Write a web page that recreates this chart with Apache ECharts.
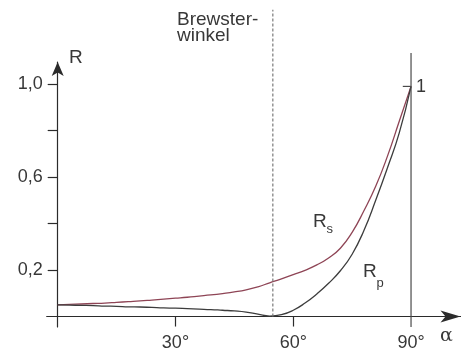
<!DOCTYPE html>
<html>
<head>
<meta charset="utf-8">
<script src="https://cdn.jsdelivr.net/npm/echarts@6/dist/echarts.min.js"></script>
<style>
  html, body { margin: 0; padding: 0; background: #fff; }
  #chart { width: 461px; height: 353px; }
</style>
</head>
<body>
<div id="chart"></div>
<script>
var angles = [0, 3, 6, 9, 12, 15, 18, 21, 24, 27, 30, 33, 36, 39, 42, 45, 48, 51, 54, 57, 60, 63, 66, 69, 72, 75, 78, 81, 84, 87, 90];
var rsValue = [0.050, 0.052, 0.054, 0.056, 0.058, 0.061, 0.064, 0.067, 0.071, 0.075, 0.079, 0.083, 0.088, 0.093, 0.099, 0.106,
               0.115, 0.128, 0.145, 0.162, 0.180, 0.199, 0.222, 0.252, 0.294, 0.362, 0.455, 0.56, 0.69, 0.84, 0.99];
var rpValue = [0.050, 0.049, 0.048, 0.047, 0.045, 0.044, 0.042, 0.041, 0.039, 0.037, 0.036, 0.034, 0.032, 0.030, 0.027, 0.024,
               0.019, 0.010, 0.002, 0.008, 0.027, 0.058, 0.097, 0.143, 0.197, 0.268, 0.370, 0.50, 0.64, 0.79, 0.99];

var xTickLabels = [30, 60, 90];
var xTicks = [30, 60];
var yTickLabels = [0.2, 0.6, 1.0];
var yTicks = [0.2, 0.4, 0.6, 0.8, 1.0];

var brewsterAngle = 54.8;
var brewsterLine = [[brewsterAngle, 0], [brewsterAngle, 1.32]];
var rightLine = [[90, -0.045], [90, 1.134]];
var oneTick = [[87.9, 0.99], [90, 0.99]];

function pairs(xs, ys) {
  var out = [];
  for (var i = 0; i < xs.length; i++) out.push([xs[i], ys[i]]);
  return out;
}

var txt = '#383838';
var axisCol = '#2b2b2b';
var fam = '"Liberation Sans", Arial, sans-serif';

var chart = echarts.init(document.getElementById('chart'));  // echarts定义
var option = {
  animation: false,
  backgroundColor: '#fff',
  grid: { left: 46.7, right: 0.5, top: 62, bottom: 26, containLabel: false, outerBoundsMode: 'none' },
  xAxis: {
    type: 'value',
    min: -2.8,
    max: 102.6,
    splitLine: { show: false },
    axisLine: {
      onZero: true,
      lineStyle: { color: axisCol, width: 1.2 },
      symbol: ['none', 'arrow'],
      symbolSize: [9, 20]
    },
    axisTick: { customValues: xTicks, length: 10, lineStyle: { color: axisCol, width: 1.2 } },
    axisLabel: {
      customValues: xTickLabels,
      margin: 7,
      fontSize: 18,
      fontFamily: fam,
      color: txt,
      formatter: function (v) { return v + '°'; }
    }
  },
  yAxis: {
    type: 'value',
    min: -0.045,
    max: 1.095,
    splitLine: { show: false },
    axisLine: {
      onZero: true,
      lineStyle: { color: axisCol, width: 1.2 },
      symbol: ['none', 'arrow'],
      symbolSize: [9, 14]
    },
    axisTick: { customValues: yTicks, length: 10, lineStyle: { color: axisCol, width: 1.2 } },
    axisLabel: {
      customValues: yTickLabels,
      margin: 4,
      fontSize: 18,
      fontFamily: fam,
      color: txt,
      formatter: function (v) { return v.toFixed(1).replace('.', ','); }
    }
  },
  series: [
    {
      name: 'Rs',
      type: 'line',
      smooth: true,
      showSymbol: false,
      clip: false,
      lineStyle: { color: '#8e4455', width: 1.3 },
      data: pairs(angles, rsValue)
    },
    {
      name: 'Rp',
      type: 'line',
      smooth: true,
      showSymbol: false,
      clip: false,
      lineStyle: { color: '#3c3c3c', width: 1.3 },
      data: pairs(angles, rpValue)
    },
    {
      name: 'brewster',
      type: 'line',
      showSymbol: false,
      clip: false,
      lineStyle: { color: '#7a7a7a', width: 1.2, type: [3, 2] },
      data: brewsterLine
    },
    {
      name: 'rand',
      type: 'line',
      showSymbol: false,
      clip: false,
      lineStyle: { color: '#4a4a4a', width: 1.2 },
      data: rightLine
    },
    {
      name: 'eins',
      type: 'line',
      showSymbol: false,
      clip: false,
      lineStyle: { color: '#4a4a4a', width: 1.2 },
      data: oneTick
    }
  ],
  graphic: [
    { type: 'text', x: 177, y: 20, style: { text: 'Brewster-', font: '19px ' + fam, fill: txt, verticalAlign: 'middle' } },
    { type: 'text', x: 177, y: 36, style: { text: 'winkel', font: '19px ' + fam, fill: txt, verticalAlign: 'middle' } },
    { type: 'text', x: 69, y: 58, style: { text: 'R', font: '19px ' + fam, fill: txt, verticalAlign: 'middle' } },
    { type: 'text', x: 416, y: 87, style: { text: '1', font: '18px ' + fam, fill: txt, verticalAlign: 'middle' } },
    { type: 'text', x: 313, y: 222, style: { text: 'R', font: '19px ' + fam, fill: txt, verticalAlign: 'middle' } },
    { type: 'text', x: 326.5, y: 229.5, style: { text: 's', font: '13px ' + fam, fill: txt, verticalAlign: 'middle' } },
    { type: 'text', x: 363, y: 272, style: { text: 'R', font: '19px ' + fam, fill: txt, verticalAlign: 'middle' } },
    { type: 'text', x: 376.5, y: 283, style: { text: 'p', font: '13px ' + fam, fill: txt, verticalAlign: 'middle' } },
    { type: 'text', x: 440, y: 336, style: { text: 'α', font: '19px "DejaVu Serif", serif', fill: txt, verticalAlign: 'middle' } }
  ]
};
chart.setOption(option);
</script>
</body>
</html>
